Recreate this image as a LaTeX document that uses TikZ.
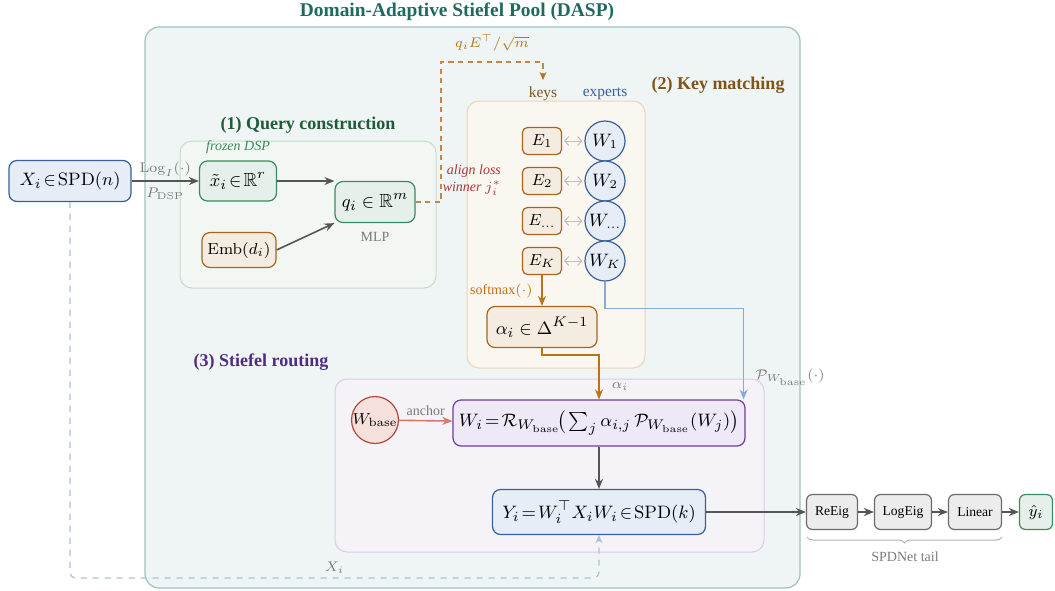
\documentclass[tikz,border=0pt]{standalone}
\usepackage{amsmath}
\usepackage{amssymb}
\usepackage[no-math]{fontspec}
\setmainfont{Liberation Serif}
\usetikzlibrary{arrows.meta}
\usetikzlibrary{decorations.pathreplacing}

\definecolor{daspfill}{HTML}{EFF4F4}
\definecolor{daspline}{HTML}{9FC2BE}
\definecolor{dasptext}{HTML}{1F6A60}
\definecolor{qfill}{HTML}{F3F7F4}
\definecolor{qline}{HTML}{C3DFCC}
\definecolor{qtext}{HTML}{1E5C3A}
\definecolor{grnfill}{HTML}{E6F0EA}
\definecolor{grnline}{HTML}{3D8A5C}
\definecolor{orfill}{HTML}{F5ECE1}
\definecolor{orline}{HTML}{A7651E}
\definecolor{kfill}{HTML}{FAF6F0}
\definecolor{kline}{HTML}{EDD6B5}
\definecolor{ktext}{HTML}{80531A}
\definecolor{blfill}{HTML}{E6EDF7}
\definecolor{blline}{HTML}{3A5F9B}
\definecolor{blarrow}{HTML}{86ABDA}
\definecolor{xdashcol}{HTML}{ABC0DF}
\definecolor{brarrow}{HTML}{B9731A}
\definecolor{brdash}{HTML}{C0894A}
\definecolor{pufill}{HTML}{EFE8F6}
\definecolor{puline}{HTML}{6C3E9E}
\definecolor{rfill}{HTML}{F5F2F8}
\definecolor{rline}{HTML}{DACCEA}
\definecolor{rtext}{HTML}{4E2C80}
\definecolor{redfill}{HTML}{F6E0DB}
\definecolor{redline}{HTML}{B1473C}
\definecolor{redarrow}{HTML}{D27A6C}
\definecolor{alignred}{HTML}{A8393B}
\definecolor{tailfill}{HTML}{ECECEC}
\definecolor{tailline}{HTML}{6B6B6B}
\definecolor{darkarrow}{HTML}{555555}
\definecolor{labelgray}{HTML}{7A7A7A}

\tikzset{
  blk/.style={draw, rounded corners=4pt, line width=0.6pt, inner sep=0pt, align=center},
  bluebox/.style={blk, draw=blline, fill=blfill, font=\fontsize{9.5}{11}\selectfont},
  greenbox/.style={blk, draw=grnline, fill=grnfill, font=\fontsize{9.5}{11}\selectfont},
  orangebox/.style={blk, draw=orline, fill=orfill, font=\fontsize{9.5}{11}\selectfont},
  purplebox/.style={blk, draw=puline, fill=pufill, font=\fontsize{9.5}{11}\selectfont},
  keybox/.style={blk, draw=orline, fill=orfill, rounded corners=2.5pt, minimum width=19.5pt, minimum height=13.5pt, font=\fontsize{8}{9}\selectfont},
  expert/.style={circle, draw=blline, fill=blfill, line width=0.6pt, minimum size=20pt, inner sep=0pt, font=\fontsize{9}{10}\selectfont},
  tailbox/.style={blk, draw=tailline, fill=tailfill, rounded corners=3pt, minimum height=17.5pt, font=\fontsize{6.8}{8}\selectfont},
  grouptitle/.style={font=\bfseries\fontsize{9}{11}\selectfont},
  smalllabel/.style={text=labelgray, font=\fontsize{7}{8}\selectfont, inner sep=1pt},
  tip/.style={-{Stealth[length=5pt,width=4pt]}},
  grayarr/.style={tip, draw=darkarrow, line width=0.8pt},
  brownarr/.style={tip, draw=brarrow, line width=0.8pt},
  bluearr/.style={tip, draw=blarrow, line width=0.75pt},
  redarr/.style={tip, draw=redarrow, line width=0.8pt},
  pairarr/.style={{Straight Barb[length=2pt,width=4.5pt]}-{Straight Barb[length=2pt,width=4.5pt]}, draw=black!25, line width=0.5pt, shorten <=1pt, shorten >=1pt}
}

\begin{document}
\begin{tikzpicture}[x=0.5pt,y=0.5pt,yscale=-1,xscale=1]
\useasboundingbox (0,0) rectangle (1055,590);

%Shape: Rectangle [DASP pool]
\draw [rounded corners=7pt, draw=daspline, fill=daspfill, line width=0.6pt] (145,27) rectangle (800,588);
%Shape: Rectangle [query construction]
\draw [rounded corners=6pt, draw=qline, fill=qfill, line width=0.5pt] (180,141) rectangle (436,288);
%Shape: Rectangle [key matching]
\draw [rounded corners=6pt, draw=kline, fill=kfill, line width=0.5pt] (467,101) rectangle (645,368);
%Shape: Rectangle [stiefel routing]
\draw [rounded corners=6pt, draw=rline, fill=rfill, line width=0.5pt] (335,379) rectangle (764,552);

% Text Node
\node [grouptitle, text=dasptext, font=\bfseries\fontsize{9.7}{11}\selectfont] (dasptitle) at (457,12) {Domain-Adaptive Stiefel Pool (DASP)};
% Text Node
\node [grouptitle, text=qtext] (qtitle) at (308,125) {(1) Query construction};
% Text Node
\node [grouptitle, text=ktext] (ktitle) at (718,85) {(2) Key matching};
% Text Node
\node [grouptitle, text=rtext] (rtitle) at (261,362) {(3) Stiefel routing};
% Text Node
\node [text=grnline, font=\itshape\fontsize{7}{8}\selectfont] (frozen) at (238,147) {frozen DSP};

%Input and query
\node [bluebox, minimum width=61pt, minimum height=20.5pt] (xin) at (70,181) {$X_i\!\in\!\mathrm{SPD}(n)$};
\node [greenbox, minimum width=38.5pt, minimum height=20pt] (xt) at (238,181) {$\tilde{x}_i\!\in\!\mathbb{R}^r$};
\node [greenbox, minimum width=40pt, minimum height=20.5pt] (q) at (375,202) {$q_i\in\mathbb{R}^m$};
\node [orangebox, minimum width=37pt, minimum height=17.5pt, font=\fontsize{8}{9}\selectfont] (emb) at (239,250) {$\mathrm{Emb}(d_i)$};
% Text Node
\node [smalllabel] (mlp) at (375,237) {MLP};

\draw [grayarr] (xin) -- (xt)
  node [smalllabel, midway, above=1pt] {$\operatorname{Log}_I(\cdot)$}
  node [smalllabel, midway, below=2pt] {$P_{\mathrm{DSP}}$};
\draw [grayarr] (xt.east) -- (q.west |- xt.east);
\draw [grayarr] (emb.east) -- (q.south west);

%Keys and experts
\node [text=ktext, font=\fontsize{7.7}{9}\selectfont] (keys) at (543,94) {keys};
\node [text=blline, font=\fontsize{7.7}{9}\selectfont] (experts) at (605,94) {experts};

\draw [brdash, line width=0.55pt, dash pattern=on 2.6pt off 2.2pt, -{Stealth[length=4pt,width=3.5pt,color=brarrow,fill=brarrow]}] (q.east) -| (441,62) -| (keys.north)
  node [pos=0.25, above=2pt, text=brarrow, font=\fontsize{7}{8}\selectfont] {$q_iE^{\top}/\sqrt{m}$};

\node [keybox] (e1) at (542,141) {$E_1$};
\node [keybox] (e2) at (542,181) {$E_2$};
\node [keybox] (e3) at (542,221) {$E_{\dots}$};
\node [keybox] (ek) at (542,261) {$E_K$};
\node [expert] (w1) at (605,141) {$W_1$};
\node [expert] (w2) at (605,181) {$W_2$};
\node [expert] (w3) at (605,221) {$W_{\dots}$};
\node [expert] (wk) at (605,261) {$W_K$};
\draw [pairarr] (e1) -- (w1);
\draw [pairarr] (e2) -- (w2);
\draw [pairarr] (e3) -- (w3);
\draw [pairarr] (ek) -- (wk);

% Text Node
\node [text=alignred, font=\itshape\fontsize{7}{8.5}\selectfont, align=right, anchor=east] (align) at (508,180) {align loss\\winner $j_i^{*}$};

\node [orangebox, minimum width=55pt, minimum height=20.5pt] (alpha) at (542,327) {$\alpha_i\in\Delta^{K-1}$};
\draw [brownarr] (ek) -- (alpha)
  node [midway, left=1pt, text=brarrow, font=\fontsize{7}{8}\selectfont] {softmax$(\cdot)$};

%Stiefel routing
\node [circle, draw=redline, fill=redfill, line width=0.6pt, minimum size=20pt, inner sep=0pt, font=\fontsize{8.5}{9}\selectfont] (wb) at (375,420) {$W_{\mathrm{base}}$};
\node [purplebox, minimum width=146pt, minimum height=23pt] (wi) at (599,423) {$W_i\!=\!\mathcal{R}_{W_{\mathrm{base}}}\!\big(\sum_j \alpha_{i,j}\,\mathcal{P}_{W_{\mathrm{base}}}(W_j)\big)$};
\node [bluebox, minimum width=106.5pt, minimum height=22.5pt] (yi) at (599,512) {$Y_i\!=\!W_i^{\top}X_iW_i\!\in\!\mathrm{SPD}(k)$};

\draw [brownarr] (alpha.south) -- ++(0,7) -| (wi.north)
  node [pos=0.85, right=5pt, smalllabel] {$\alpha_i$};
\draw [bluearr] (wk.south) -- ++(0,27) -| ([xshift=-1pt]wi.north east);
% Text Node
\node [smalllabel] (proj) at (790,377) {$\mathcal{P}_{W_{\mathrm{base}}}(\cdot)$};
\draw [redarr] (wb) -- (wi) node [midway, above=1pt, smalllabel] {anchor};
\draw [grayarr] (wi) -- (yi);

%SPDNet tail
\node [tailbox, minimum width=25.5pt] (reeig) at (832,512) {ReEig};
\node [tailbox, minimum width=28.5pt] (logeig) at (903,512) {LogEig};
\node [tailbox, minimum width=26.5pt] (linear) at (975,512) {Linear};
\node [blk, draw=grnline, fill=grnfill, rounded corners=3pt, minimum width=16.5pt, minimum height=17.5pt, font=\fontsize{8}{9}\selectfont] (yhat) at (1036,512) {$\hat{y}_i$};
\draw [grayarr] (yi) -- (reeig);
\draw [grayarr] (reeig) -- (logeig);
\draw [grayarr] (logeig) -- (linear);
\draw [grayarr] (linear) -- (yhat);
\draw [draw=black!30, line width=0.5pt, decorate, decoration={brace, amplitude=3pt}] (1002,537) -- (807,537);
% Text Node
\node [smalllabel] (tail) at (905,557) {SPDNet tail};

%Skip connection
\draw [xdashcol, dashed, line width=0.6pt, rounded corners=3pt, -{Stealth[length=4pt,width=3.5pt]}] (xin.south) -- (70,578) -| (yi.south)
  node [pos=0.25, above=1pt, smalllabel] {$X_i$};

\end{tikzpicture}
\end{document}
